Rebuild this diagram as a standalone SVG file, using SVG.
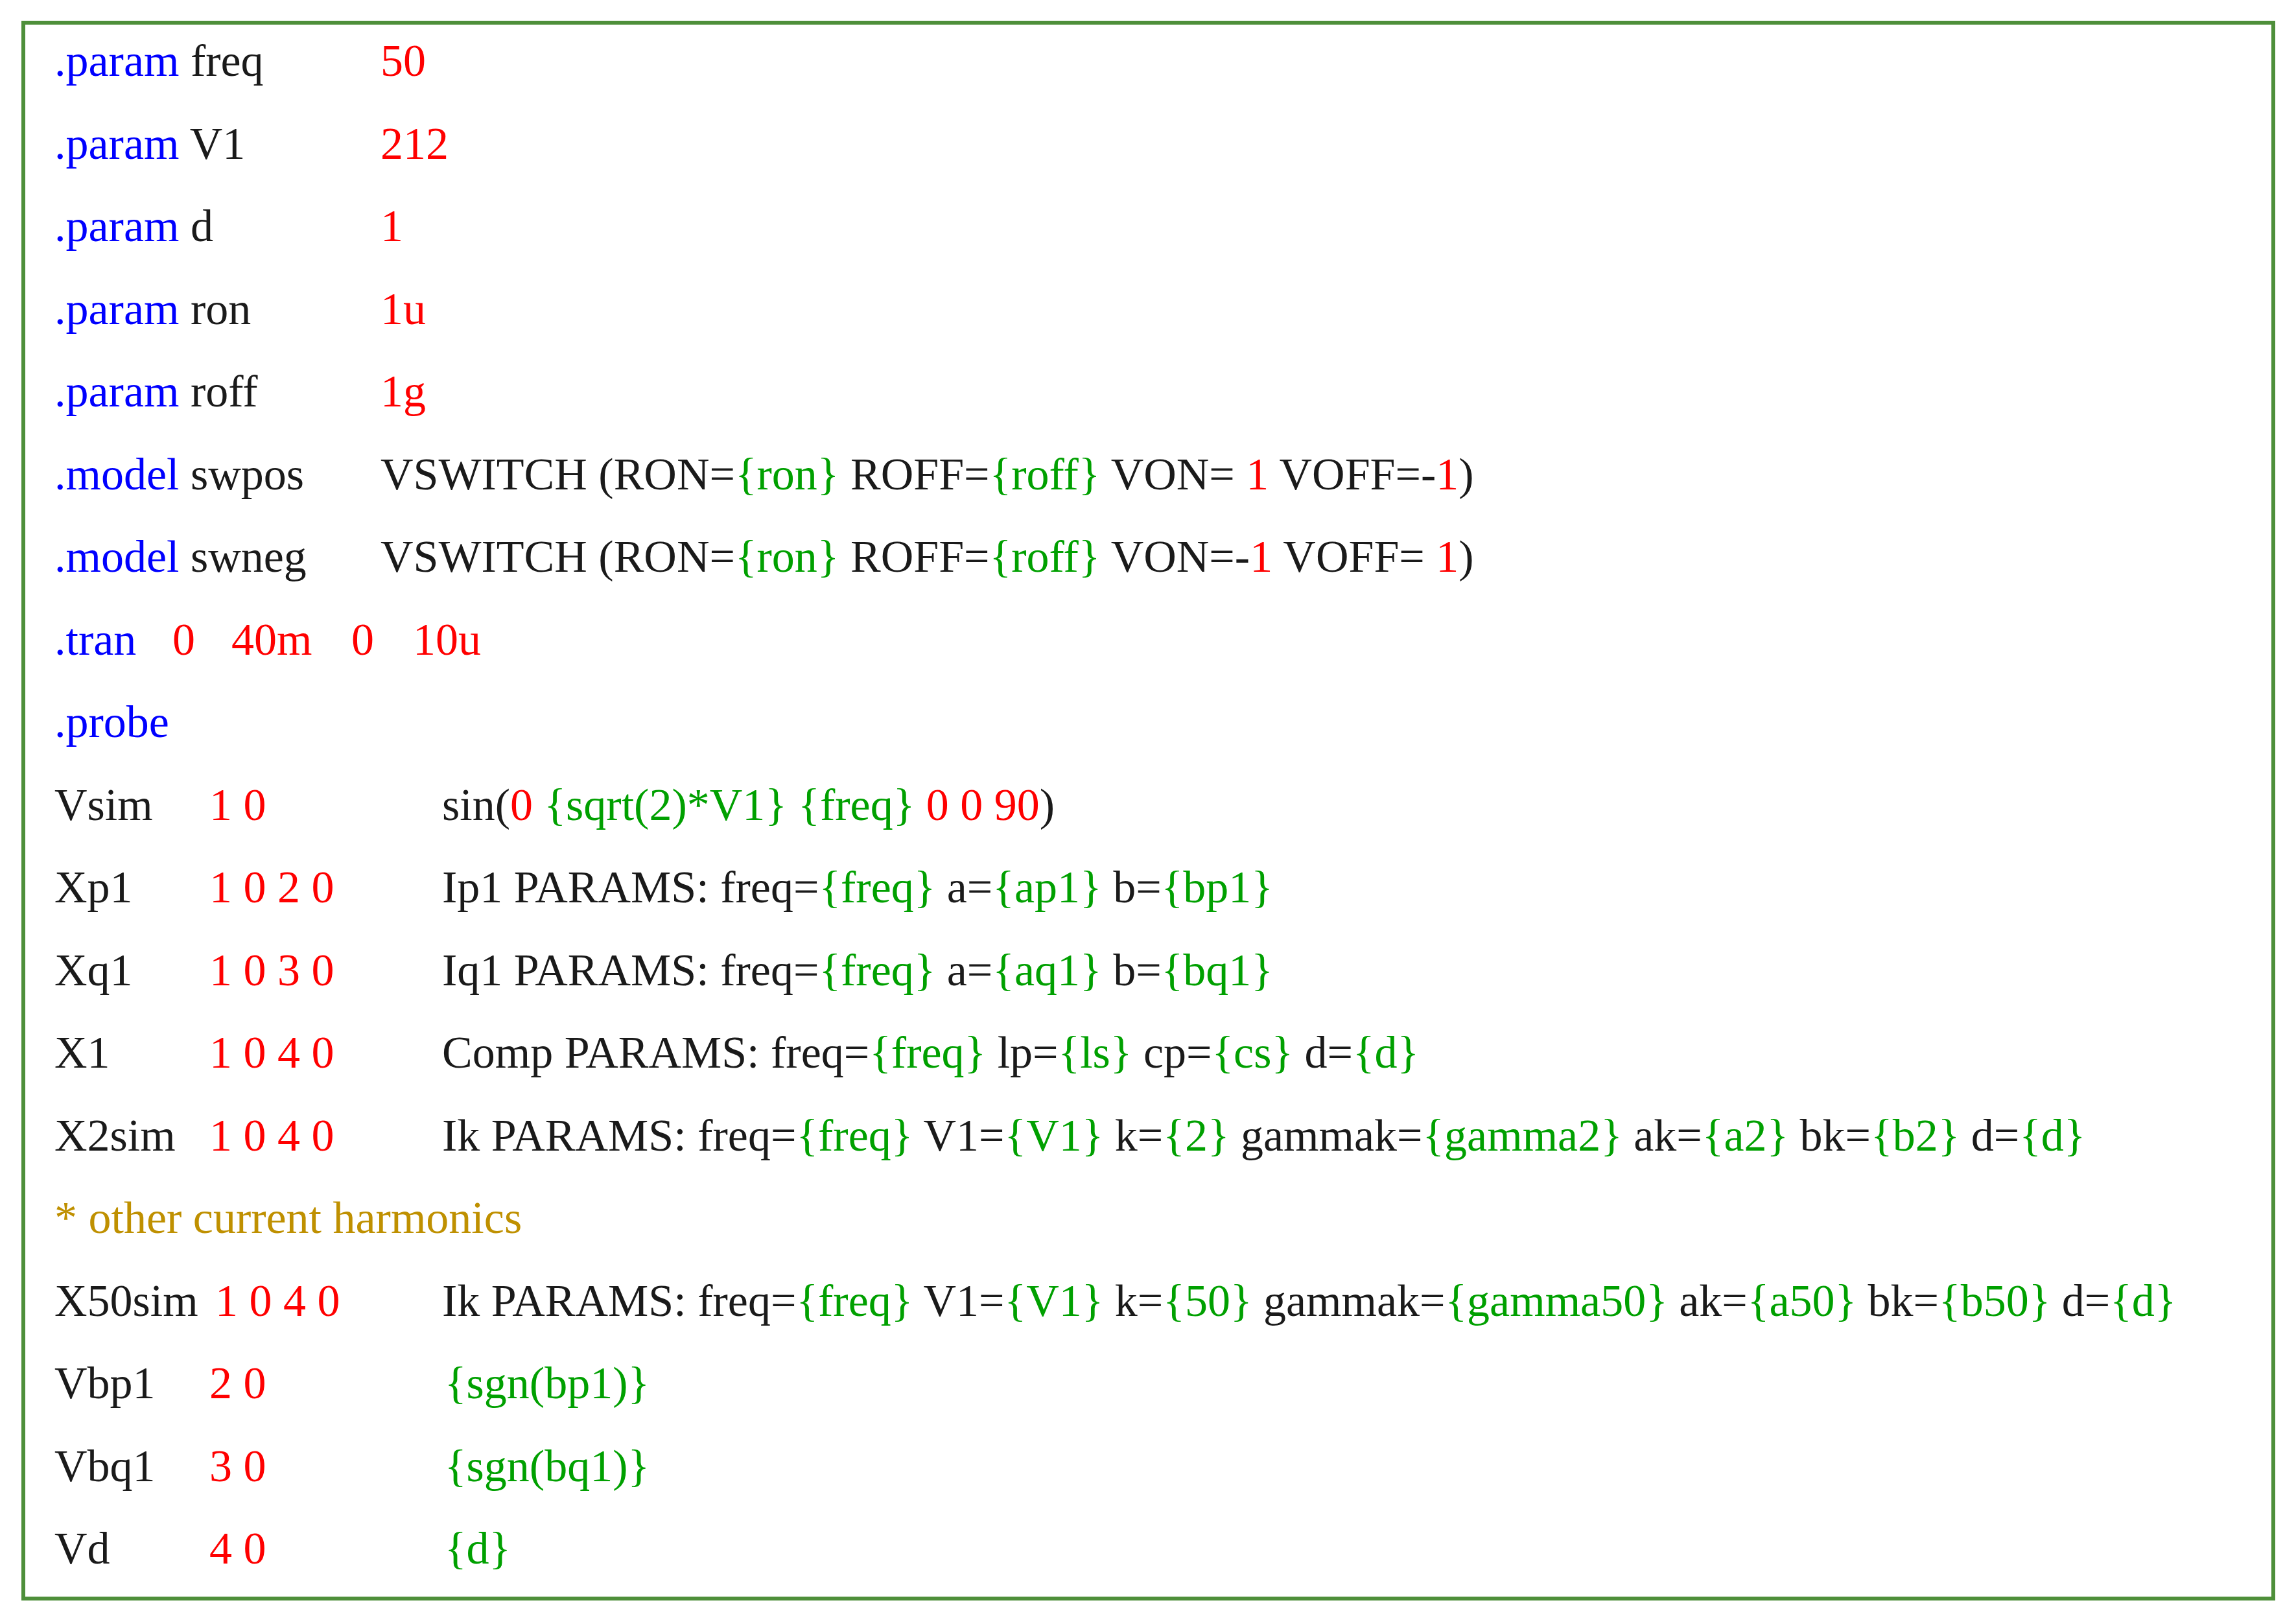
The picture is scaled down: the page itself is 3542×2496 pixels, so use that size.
<svg xmlns="http://www.w3.org/2000/svg" width="3542" height="2496" viewBox="0 0 3542 2496">
<style>
text{font-family:"Liberation Serif","Times New Roman",serif;font-size:70px;fill:#1a1a1a;white-space:pre}
.b{fill:#0000ff}.r{fill:#ff0000}.g{fill:#00a000}.y{fill:#bf9000}
</style>
<rect width="3542" height="2496" fill="#fff"/>
<rect x="36" y="35" width="3471" height="2431" fill="none" stroke="#4e8f3a" stroke-width="6"/>
<g id="netlist" xml:space="preserve">
<text y="117"><tspan x="84" class="b">.param</tspan> freq<tspan x="587" class="r">50</tspan></text>
<text y="245"><tspan x="84" class="b">.param</tspan> V1<tspan x="587" class="r">212</tspan></text>
<text y="372"><tspan x="84" class="b">.param</tspan> d<tspan x="587" class="r">1</tspan></text>
<text y="500"><tspan x="84" class="b">.param</tspan> ron<tspan x="587" class="r">1u</tspan></text>
<text y="627"><tspan x="84" class="b">.param</tspan> roff<tspan x="587" class="r">1g</tspan></text>
<text y="755"><tspan x="84" class="b">.model</tspan> swpos<tspan x="587">VSWITCH (RON=</tspan><tspan class="g">{ron}</tspan> ROFF=<tspan class="g">{roff}</tspan> VON= <tspan class="r">1</tspan> VOFF=-<tspan class="r">1</tspan>)</text>
<text y="882"><tspan x="84" class="b">.model</tspan> swneg<tspan x="587">VSWITCH (RON=</tspan><tspan class="g">{ron}</tspan> ROFF=<tspan class="g">{roff}</tspan> VON=-<tspan class="r">1</tspan> VOFF= <tspan class="r">1</tspan>)</text>
<text y="1010"><tspan x="84" class="b">.tran</tspan><tspan x="266" class="r">0</tspan><tspan x="357" class="r">40m</tspan><tspan x="542" class="r">0</tspan><tspan x="637" class="r">10u</tspan></text>
<text y="1137"><tspan x="84" class="b">.probe</tspan></text>
<text y="1265"><tspan x="84">Vsim</tspan><tspan x="323" class="r">1 0</tspan><tspan x="682">sin(</tspan><tspan class="r">0 </tspan><tspan class="g">{sqrt(2)*V1} {freq}</tspan> <tspan class="r">0 0 90</tspan>)</text>
<text y="1392"><tspan x="84">Xp1</tspan><tspan x="323" class="r">1 0 2 0</tspan><tspan x="682">Ip1 PARAMS: freq=</tspan><tspan class="g">{freq}</tspan> a=<tspan class="g">{ap1}</tspan> b=<tspan class="g">{bp1}</tspan></text>
<text y="1520"><tspan x="84">Xq1</tspan><tspan x="323" class="r">1 0 3 0</tspan><tspan x="682">Iq1 PARAMS: freq=</tspan><tspan class="g">{freq}</tspan> a=<tspan class="g">{aq1}</tspan> b=<tspan class="g">{bq1}</tspan></text>
<text y="1647"><tspan x="84">X1</tspan><tspan x="323" class="r">1 0 4 0</tspan><tspan x="682">Comp PARAMS: freq=</tspan><tspan class="g">{freq}</tspan> lp=<tspan class="g">{ls}</tspan> cp=<tspan class="g">{cs}</tspan> d=<tspan class="g">{d}</tspan></text>
<text y="1775"><tspan x="84">X2sim</tspan><tspan x="323" class="r">1 0 4 0</tspan><tspan x="682">Ik PARAMS: freq=</tspan><tspan class="g">{freq}</tspan> V1=<tspan class="g">{V1}</tspan> k=<tspan class="g">{2}</tspan> gammak=<tspan class="g">{gamma2}</tspan> ak=<tspan class="g">{a2}</tspan> bk=<tspan class="g">{b2}</tspan> d=<tspan class="g">{d}</tspan></text>
<text y="1902"><tspan x="84" class="y">* other current harmonics</tspan></text>
<text y="2030"><tspan x="84">X50sim</tspan><tspan x="332" class="r">1 0 4 0</tspan><tspan x="682">Ik PARAMS: freq=</tspan><tspan class="g">{freq}</tspan> V1=<tspan class="g">{V1}</tspan> k=<tspan class="g">{50}</tspan> gammak=<tspan class="g">{gamma50}</tspan> ak=<tspan class="g">{a50}</tspan> bk=<tspan class="g">{b50}</tspan> d=<tspan class="g">{d}</tspan></text>
<text y="2157"><tspan x="84">Vbp1</tspan><tspan x="323" class="r">2 0</tspan><tspan x="686" class="g">{sgn(bp1)}</tspan></text>
<text y="2285"><tspan x="84">Vbq1</tspan><tspan x="323" class="r">3 0</tspan><tspan x="686" class="g">{sgn(bq1)}</tspan></text>
<text y="2412"><tspan x="84">Vd</tspan><tspan x="323" class="r">4 0</tspan><tspan x="686" class="g">{d}</tspan></text>
</g>
</svg>
